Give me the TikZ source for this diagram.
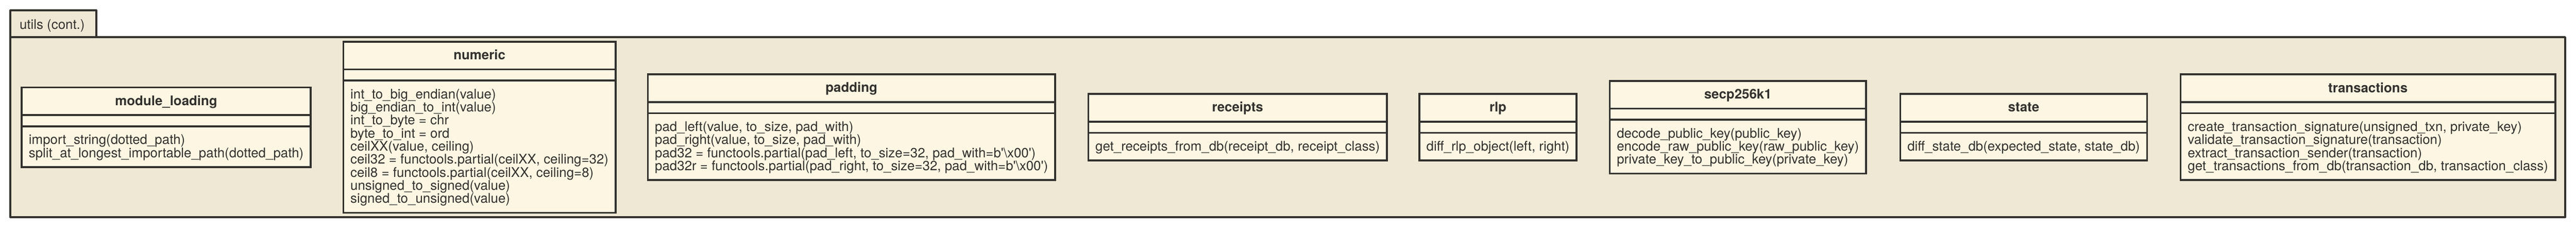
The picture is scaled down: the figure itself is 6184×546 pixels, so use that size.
\documentclass[tikz,border=0pt]{standalone}
\usepackage{fontspec}
\setmainfont{TeX Gyre Heros}
\usetikzlibrary{shapes.multipart}
\definecolor{pkgfill}{HTML}{EEE8D5}
\definecolor{clsfill}{HTML}{FDF6E3}
\definecolor{ink}{HTML}{33312D}
\newcommand{\cltop}{\rule{0pt}{32.5pt}}
\newcommand{\clbot}{\rule[-12.5pt]{0pt}{12.5pt}}

\begin{document}
\begin{tikzpicture}[x=1pt, y=-1pt,
        every node/.style={text=ink, font=\fontsize{32}{30}\selectfont},
        umlclass/.style={rectangle split, rectangle split parts=3,
            rectangle split part align={center,left,left},
            rectangle split empty part height=0pt,
            rectangle split empty part depth=0pt,
            draw=ink, fill=clsfill, line width=4.5pt,
            inner xsep=17pt, inner ysep=8.5pt, align=left},
        pkgframe/.style={draw=ink, fill=pkgfill, line width=4.5pt, line join=round}]
        \useasboundingbox (0, 0) rectangle (6184, 546);

        \draw[pkgframe] (25, 89) rectangle (6158, 521);
        \draw[pkgframe] (25, 25) rectangle (231.5, 89);
        \node[anchor=base west] at (43.5, 70)(pkgname){utils (cont.)};

        \node[umlclass] at (399, 305)(moduleloading){\cltop\textbf{module\_loading}\clbot
            \nodepart{two}
            \nodepart{three}\cltop import\_string(dotted\_path)\\
            split\_at\_longest\_importable\_path(dotted\_path)\clbot};
        \node[umlclass] at (1151, 305)(numeric){\cltop\textbf{numeric}\clbot
            \nodepart{two}
            \nodepart{three}\cltop int\_to\_big\_endian(value)\\
            big\_endian\_to\_int(value)\\
            int\_to\_byte = chr\\
            byte\_to\_int = ord\\
            ceilXX(value, ceiling)\\
            ceil32 = functools.partial(ceilXX, ceiling=32)\\
            ceil8 = functools.partial(ceilXX, ceiling=8)\\
            unsigned\_to\_signed(value)\\
            signed\_to\_unsigned(value)\clbot};
        \node[umlclass] at (2044, 305)(padding){\cltop\textbf{padding}\clbot
            \nodepart{two}
            \nodepart{three}\cltop pad\_left(value, to\_size, pad\_with)\\
            pad\_right(value, to\_size, pad\_with)\\
            pad32 = functools.partial(pad\_left, to\_size=32, pad\_with=b\textquotesingle\textbackslash x00\textquotesingle)\\
            pad32r = functools.partial(pad\_right, to\_size=32, pad\_with=b\textquotesingle\textbackslash x00\textquotesingle)\clbot};
        \node[umlclass] at (2971, 305)(receipts){\cltop\textbf{receipts}\clbot
            \nodepart{two}
            \nodepart{three}\cltop get\_receipts\_from\_db(receipt\_db, receipt\_class)\clbot};
        \node[umlclass] at (3596, 305)(rlp){\cltop\textbf{rlp}\clbot
            \nodepart{two}
            \nodepart{three}\cltop diff\_rlp\_object(left, right)\clbot};
        \node[umlclass] at (4172, 305)(secp){\cltop\textbf{secp256k1}\clbot
            \nodepart{two}
            \nodepart{three}\cltop decode\_public\_key(public\_key)\\
            encode\_raw\_public\_key(raw\_public\_key)\\
            private\_key\_to\_public\_key(private\_key)\clbot};
        \node[umlclass] at (4858, 305)(state){\cltop\textbf{state}\clbot
            \nodepart{two}
            \nodepart{three}\cltop diff\_state\_db(expected\_state, state\_db)\clbot};
        \node[umlclass] at (5684.5, 305)(transactions){\cltop\textbf{transactions}\clbot
            \nodepart{two}
            \nodepart{three}\cltop create\_transaction\_signature(unsigned\_txn, private\_key)\\
            validate\_transaction\_signature(transaction)\\
            extract\_transaction\_sender(transaction)\\
            get\_transactions\_from\_db(transaction\_db, transaction\_class)\clbot};
    \end{tikzpicture}
\end{document}
